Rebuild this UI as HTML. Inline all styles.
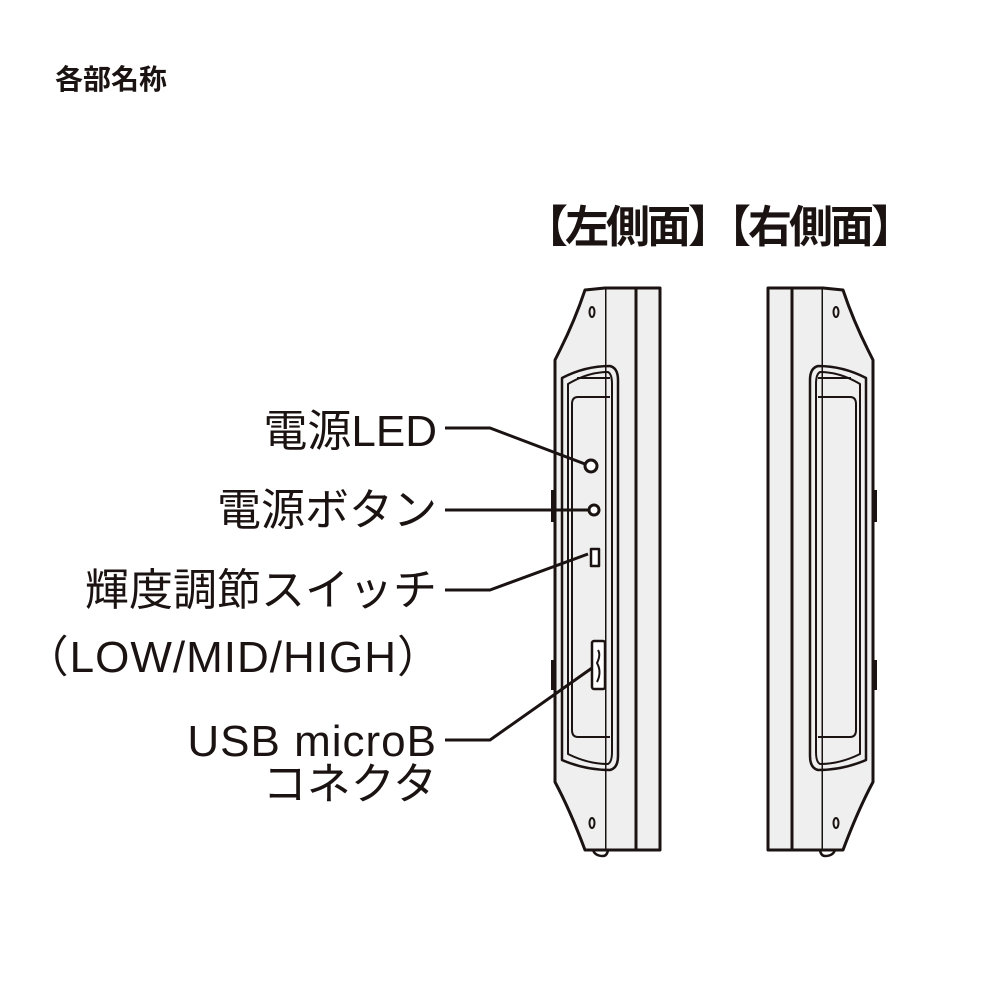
<!DOCTYPE html>
<html><head><meta charset="utf-8"><style>
body{margin:0;width:1000px;height:1000px;background:#fff;position:relative;overflow:hidden;font-family:"Liberation Sans","Noto Sans CJK JP",sans-serif;color:#1a1311}
.t{position:absolute;white-space:nowrap;line-height:1}
.r{right:563px;font-size:44px;text-align:right}
</style></head><body>
<div class="t" style="left:55px;top:66px;font-size:28px;font-weight:bold">各部名称</div>
<div class="t" style="left:524px;top:206px;font-size:44px;font-weight:bold;letter-spacing:-3px">【左側面】【右側面】</div>
<div class="t r" style="top:410px">電源LED</div>
<div class="t r" style="top:489px">電源ボタン</div>
<div class="t r" style="top:569px">輝度調節スイッチ</div>
<div class="t r" style="top:636px;right:558px;letter-spacing:1px">（LOW/MID/HIGH）</div>
<div class="t r" style="top:720px;letter-spacing:1px">USB microB</div>
<div class="t r" style="top:763px">コネクタ</div>
<svg width="1000" height="1000" style="position:absolute;left:0;top:0" fill="none" stroke="#1a1311" stroke-linejoin="round">
<g id="dev" stroke-width="3">
<path d="M605 288 L660 288 L660 850 L605 850 Z" fill="#efefef"/>
<line x1="636" y1="288" x2="636" y2="850"/>
<path d="M605 288 L585 290 Q575 320 560 350 L555 360 L555 782 Q570 810 585 850 L605 850" fill="#efefef"/>
<path d="M562 378 Q585 366 610 366 Q618 368 618 380 L618 756 Q618 768 610 770 Q585 770 562 760 Z" stroke-width="2.5"/>
<path d="M568 384 Q588 372 608 372 Q612 374 612 384 L612 752 Q612 762 608 764 Q588 764 568 754 Z" stroke-width="2"/>
<line x1="577" y1="378" x2="610" y2="378" stroke-width="2"/>
<path d="M610 397 L578 397 Q572 397 572 404 L572 730 Q572 737 578 737 L610 737" stroke-width="2"/>
<ellipse cx="592" cy="312" rx="2.5" ry="5" stroke-width="2"/>
<ellipse cx="592" cy="823" rx="2.5" ry="5" stroke-width="2"/>
<path d="M593 850 Q595 856 603 856 Q607 856 608 850" stroke-width="2.5"/>
<line x1="553" y1="490" x2="553" y2="522" stroke-width="4"/>
<line x1="553" y1="660" x2="553" y2="690" stroke-width="4"/>
</g>
<use href="#dev" transform="translate(1428,0) scale(-1,1)"/>
<circle cx="591" cy="466" r="6" stroke-width="3" fill="#fff"/>
<circle cx="594" cy="510" r="5" stroke-width="3" fill="#fff"/>
<rect x="591" y="549" width="8" height="17" stroke-width="2.5" fill="#fff"/>
<rect x="592" y="641" width="13" height="48" rx="2" stroke-width="2.5" fill="#fff"/>
<path d="M598 650 Q601 655 597 663 Q602 672 597 682" stroke-width="2"/>
<g stroke-width="3">
<polyline points="445,428 490,428 585,464"/>
<polyline points="445,510 588,510"/>
<polyline points="445,590 490,590 588,554"/>
<polyline points="445,740 490,740 592,668"/>
</g>
</svg>
</body></html>
